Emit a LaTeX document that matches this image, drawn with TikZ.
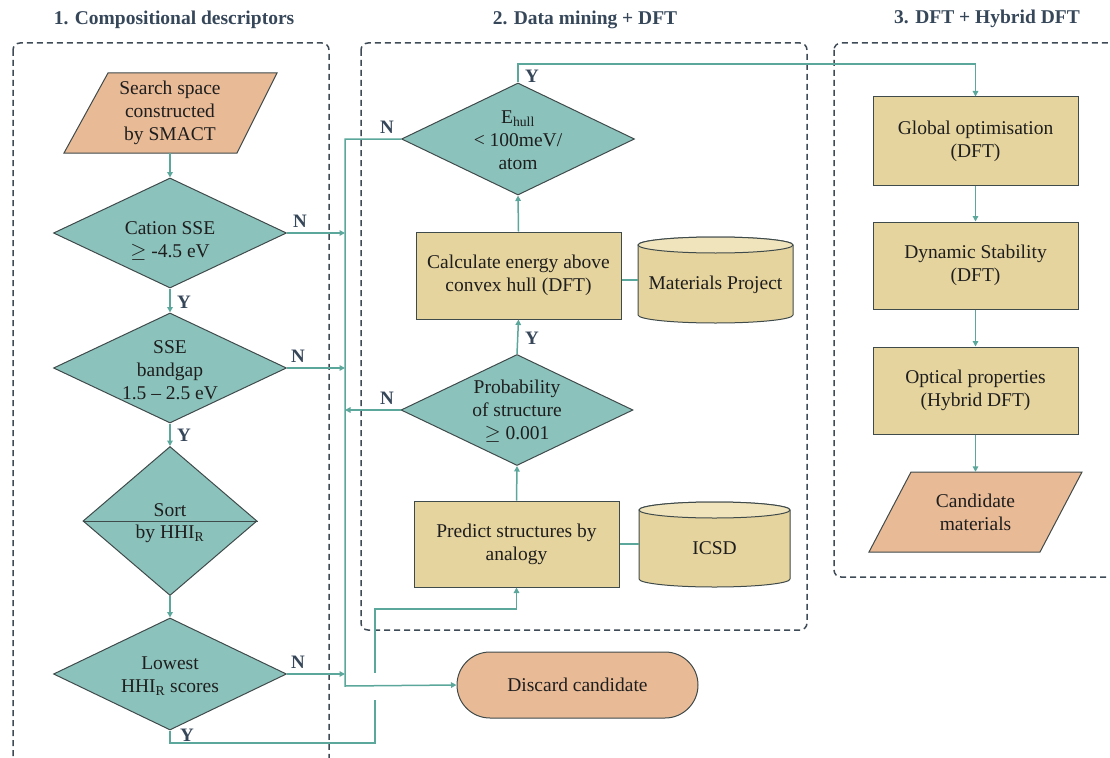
\documentclass[tikz,border=0pt]{standalone}
\usepackage{fontspec}
\setmainfont{Liberation Serif}
\usetikzlibrary{shapes.geometric,arrows.meta,calc}
\definecolor{cTeal}{HTML}{8BC2BB}
\definecolor{cTan}{HTML}{E6D49E}
\definecolor{cTanTop}{HTML}{F0E4BD}
\definecolor{cOrange}{HTML}{E9BA96}
\definecolor{cLine}{HTML}{5CA79B}
\definecolor{cFrame}{HTML}{3E4A56}
\definecolor{cLabel}{HTML}{36475A}
\definecolor{cBorder}{HTML}{3F4A4A}
\definecolor{cText}{HTML}{1E1E1E}
\tikzset{
  frame/.style={draw=cFrame, line width=1.5pt, dash pattern=on 6pt off 4pt, rounded corners=7pt},
  titletext/.style={font=\fontsize{19.5}{23}\selectfont\bfseries, text=cLabel, inner sep=0},
  txt/.style={font=\fontsize{19.5}{23}\selectfont, align=center, text=cText, inner sep=0},
  dec/.style={diamond, draw=cBorder, fill=cTeal, line width=1pt, inner sep=0},
  procbox/.style={rectangle, draw=cBorder, fill=cTan, line width=1pt, minimum width=205pt, minimum height=87pt, inner sep=0, font=\fontsize{19.5}{23}\selectfont, align=center, text=cText},
  iobox/.style={draw=cBorder, fill=cOrange, line width=1pt},
  cylfill/.style={draw=cBorder, fill=cTan, line width=1pt},
  conn/.style={draw=cLine, line width=1.5pt},
  arr/.style={conn, -{Triangle[length=5.5pt,width=5.5pt]}},
  lab/.style={font=\fontsize{19}{23}\selectfont\bfseries, text=cLabel, inner sep=0}
}
\begin{document}
\begin{tikzpicture}[x=1pt,y=1pt]
\useasboundingbox (0,0) rectangle (1110,-757);
\clip (0,0) rectangle (1110,-757);

% titles
\node[titletext] (t1) at (174,-20) {1. Compositional descriptors};
\node[titletext] (t2) at (585,-20) {2. Data mining + DFT};
\node[titletext] (t3) at (987,-19) {3. DFT + Hybrid DFT};

% frames
\draw[frame] (13,-43) rectangle (329,-770);
\draw[frame] (361,-43) rectangle (807,-630);
\draw[frame] (834,-43) rectangle (1125,-577);

% ---- column 1 ----
\filldraw[iobox] (108,-73) -- (277,-73) -- (237,-153) -- (64,-153) -- cycle;
\node[txt, minimum width=170pt, minimum height=80pt] (ss) at (170,-113) {Search space\\constructed\\by SMACT};

\node[dec, minimum width=233pt, minimum height=110pt] (d1) at (170,-233) {};
\node[txt] (d1t) at (170,-241) {Cation SSE\\$\geq$ -4.5 eV};

\node[dec, minimum width=233pt, minimum height=110pt] (d2) at (170,-368) {};
\node[txt] (d2t) at (170,-370) {SSE\\bandgap\\1.5 -- 2.5 eV};

\node[dec, minimum width=174pt, minimum height=149pt] (d3) at (170,-521) {};
\draw[draw=cBorder, line width=1pt] (d3.west) -- (d3.east);
\node[txt] (d3a) at (170,-510) {Sort};
\node[txt] (d3b) at (170,-534) {by HHI\textsubscript{R}};

\node[dec, minimum width=233pt, minimum height=112pt] (d4) at (170,-674) {};
\node[txt] (d4t) at (170,-676) {Lowest\\HHI\textsubscript{R} scores};

% ---- column 2 ----
\node[dec, minimum width=233pt, minimum height=112pt] (dE) at (518,-139) {};
\node[txt] (dEt) at (518,-140) {E\textsubscript{hull}\\< 100meV/\\atom};

\node[procbox] (calc) at (518.5,-275.5) {Calculate energy above\\convex hull (DFT)};

\filldraw[cylfill] (638,-245) -- (638,-315) arc[start angle=180, end angle=360, x radius=77.5pt, y radius=8pt] -- (793,-245) arc[start angle=0, end angle=180, x radius=77.5pt, y radius=8pt] -- cycle;
\filldraw[draw=cBorder, fill=cTanTop, line width=1pt] (715.5,-245) ellipse [x radius=77.5pt, y radius=8pt];
\node[txt, minimum width=155pt, minimum height=86pt] (mp) at (715.5,-280) {};
\node[txt] (mpt) at (715.5,-285) {Materials Project};

\node[dec, minimum width=232pt, minimum height=111pt] (dP) at (517,-410) {};
\node[txt] (dPt) at (517,-411) {Probability\\of structure\\$\geq$ 0.001};

\node[procbox, minimum height=86pt] (pred) at (516.5,-544) {Predict structures by\\analogy};

\filldraw[cylfill] (639,-510) -- (639,-579) arc[start angle=180, end angle=360, x radius=75.5pt, y radius=8pt] -- (790,-510) arc[start angle=0, end angle=180, x radius=75.5pt, y radius=8pt] -- cycle;
\filldraw[draw=cBorder, fill=cTanTop, line width=1pt] (714.5,-510) ellipse [x radius=75.5pt, y radius=8pt];
\node[txt, minimum width=151pt, minimum height=85pt] (icsd) at (714.5,-544) {};
\node[txt] (icsdt) at (714.5,-548) {ICSD};

\node[rectangle, draw=cBorder, fill=cOrange, line width=1pt, rounded corners=33pt, minimum width=241pt, minimum height=66pt, inner sep=0, font=\fontsize{19.5}{23}\selectfont, text=cText] (disc) at (577.5,-685) {Discard candidate};

% ---- column 3 ----
\node[procbox, minimum height=88pt] (glob) at (975.5,-141) {Global optimisation\\(DFT)};
\node[procbox] (dyn) at (975.5,-265.5) {Dynamic Stability\\(DFT)};
\node[procbox] (opt) at (975.5,-390.5) {Optical properties\\(Hybrid DFT)};
\filldraw[iobox] (911,-472) -- (1082,-472) -- (1040,-552) -- (869,-552) -- cycle;
\node[txt, minimum width=170pt, minimum height=80pt] (cand) at (975.5,-512) {Candidate\\materials};

% ---- connectors ----
\coordinate (bus1) at (345,-233);
\coordinate (bus2) at (345,-368);
\coordinate (bus4) at (345,-674);
\coordinate (busP) at (345,-410);
\coordinate (busE) at (345,-139);
\coordinate (busB) at (345,-686);
\coordinate (yc1) at (170,-743);
\coordinate (yc2) at (375,-743);
\coordinate (jb) at (375,-700);
\coordinate (jt) at (375,-673);
\coordinate (yc3) at (375,-609);
\coordinate (ytop) at (518,-64);

\draw[arr] (d1.north |- ss.south) -- (d1.north);
\draw[arr] (d1.south) -- (d2.north);
\draw[arr] (d2.south) -- (d3.north);
\draw[arr] (d3.south) -- (d4.north);

\draw[arr] (d1.east) -- (bus1);
\draw[arr] (d2.east) -- (bus2);
\draw[arr] (d4.east) -- (bus4);
\draw[arr] (dP.west) -- (busP);

\draw[conn] (d4.south) -- (yc1) -- (yc2) -- (jb);
\draw[arr] (jt) -- (yc3) -- (yc3 -| pred.south) -- (pred.south);

\draw[arr] (dE.west) -- (busE) -- (busB) -- (disc.west);

\draw[arr] (pred.north) -- (dP.south);
\draw[arr] (dP.north) -- (calc.south);
\draw[arr] (calc.north) -- (dE.south);
\draw[conn] (calc.east |- mp.west) -- (mp.west);
\draw[conn] (pred.east |- icsd.west) -- (icsd.west);

\draw[arr] (dE.north) -- (ytop) -| (glob.north);
\draw[arr] (glob.south) -- (dyn.north);
\draw[arr] (dyn.south) -- (opt.north);
\draw[arr] (opt.south) -- (cand.north);

% labels
\node[lab] (n1) at (300,-221) {N};
\node[lab] (n2) at (298,-356) {N};
\node[lab] (n3) at (298,-662) {N};
\node[lab] (y1) at (184,-302) {Y};
\node[lab] (y2) at (184,-435) {Y};
\node[lab] (y3) at (187,-735) {Y};
\node[lab] (nE) at (387,-127) {N};
\node[lab] (yE) at (532,-76) {Y};
\node[lab] (nP) at (387,-398) {N};
\node[lab] (yP) at (532,-338) {Y};
\end{tikzpicture}
\end{document}
